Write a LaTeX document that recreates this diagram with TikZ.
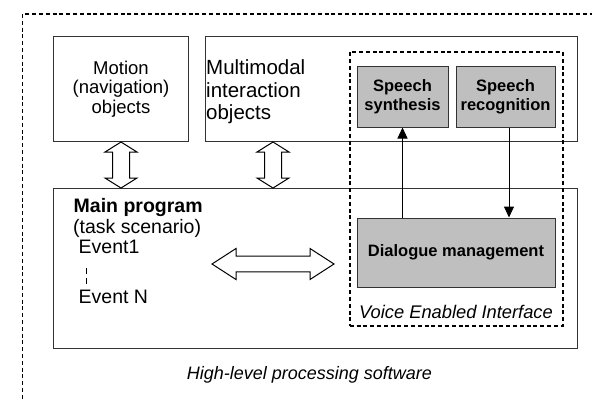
\documentclass[tikz,border=0pt]{standalone}
\usepackage{fontspec}
\setmainfont{Liberation Sans}
\usetikzlibrary{arrows.meta,calc}

\newcommand\fsz[2]{\fontsize{#1}{#2}\selectfont}

% hollow two-headed arrows (vertical and horizontal)
\newcommand\vhollow[2]{%
  \draw[hollow] let \p1=(#1), \p2=(#2) in
    (\x1,\y1) -- (\x1+16pt,\y1-10pt) -- (\x1+8.5pt,\y1-10pt) -- (\x1+8.5pt,\y2+10pt)
    -- (\x1+16pt,\y2+10pt) -- (\x1,\y2) -- (\x1-16pt,\y2+10pt) -- (\x1-8.5pt,\y2+10pt)
    -- (\x1-8.5pt,\y1-10pt) -- (\x1-16pt,\y1-10pt) -- cycle;}
\newcommand\hhollow[2]{%
  \draw[hollow] let \p1=(#1), \p2=(#2) in
    (\x1,\y1) -- (\x1+24pt,\y1+15.5pt) -- (\x1+24pt,\y1+7.8pt) -- (\x2-24pt,\y1+7.8pt)
    -- (\x2-24pt,\y1+15.5pt) -- (\x2,\y1) -- (\x2-24pt,\y1-15.5pt) -- (\x2-24pt,\y1-7.8pt)
    -- (\x1+24pt,\y1-7.8pt) -- (\x1+24pt,\y1-15.5pt) -- cycle;}

\tikzset{
  box/.style={draw=black!80, line width=1pt, inner sep=0pt},
  grey box/.style={box, fill=black!25, align=center, font=\bfseries\fsz{16.5}{19}},
  dashbox/.style={draw=black, line width=1.5pt, dash pattern=on 4pt off 2.8pt},
  txt/.style={inner sep=0pt, anchor=base west},
  hollow/.style={draw=black, line width=1pt, fill=white, line join=miter},
  conn/.style={draw=black, line width=1pt, -{Triangle[length=11pt,width=10pt]}},
}

\begin{document}
\begin{tikzpicture}[x=1pt, y=-1pt]
  \useasboundingbox (0,0) rectangle (592,400);
  \clip (0,0) rectangle (592,400);
  \fill[white] (0,0) rectangle (592,400);

  % outer software frame
  \draw[dashbox] (22.7,14) rectangle (630,430);

  % upper modules
  \node[box, anchor=north west, minimum width=135pt, minimum height=105pt,
        align=center, font=\fsz{18.5}{19.5}] (motion) at (53,36)
        {Motion\\(navigation)\\objects};
  \node[box, anchor=north west, minimum width=372pt, minimum height=105pt] (mm) at (205,36) {};
  \node[txt, font=\fsz{20.5}{22}] (mm1) at (206,74) {Multimodal};
  \node[txt, font=\fsz{20.5}{22}] (mm2) at (206,97) {interaction};
  \node[txt, font=\fsz{20.5}{22}] (mm3) at (206,119) {objects};

  % main program
  \node[box, anchor=north west, minimum width=524pt, minimum height=160pt] (main) at (53,188) {};
  \node[txt, font=\bfseries\fsz{19.5}{22}] (mp1) at (73.5,212.7) {Main program};
  \node[txt, font=\fsz{19.5}{22}] (mp2) at (73,233) {(task scenario)};
  \node[txt, font=\fsz{19.5}{22}] (ev1) at (78.5,253) {Event1};
  \node[txt, font=\fsz{19.5}{22}] (evn) at (78.5,303) {Event N};
  \draw[line width=1pt, dash pattern=on 6pt off 3.5pt] (86,268) -- (86,285);

  % voice enabled interface
  \node[dashbox, anchor=north west, minimum width=213pt, minimum height=274pt, inner sep=0pt] (vei) at (349,51) {};
  \node[grey box, minimum width=91pt, minimum height=61pt] (synth) at (402.5,96.5) {Speech\\synthesis};
  \node[grey box, minimum width=99pt, minimum height=61pt] (rec) at (505.5,96.5) {Speech\\recognition};
  \node[grey box, minimum width=198pt, minimum height=69pt] (dial) at (456,252.5) {Dialogue management};
  \node[inner sep=0pt, anchor=base, font=\itshape\fsz{18.3}{20}] (veil) at (456,318) {Voice Enabled Interface};

  \draw[conn] (dial.north -| synth.south) -- (synth.south);
  \coordinate (rtop) at ($(rec.south)+(3.5,0)$);
  \draw[conn] (rtop) -- (rtop |- dial.north);

  % data exchange between modules
  \coordinate (a1t) at (motion.south);
  \coordinate (a1b) at (motion.south |- main.north);
  \coordinate (a2t) at ($(mm.south west)+(68,0)$);
  \coordinate (a2b) at (a2t |- main.north);
  \vhollow{a1t}{a1b}
  \vhollow{a2t}{a2b}
  \coordinate (h1) at (212,264);
  \coordinate (h2) at (334,264);
  \hhollow{h1}{h2}

  \node[inner sep=0pt, anchor=base, font=\itshape\fsz{18}{20}] (hl) at (309.5,379) {High-level processing software};
\end{tikzpicture}
\end{document}
